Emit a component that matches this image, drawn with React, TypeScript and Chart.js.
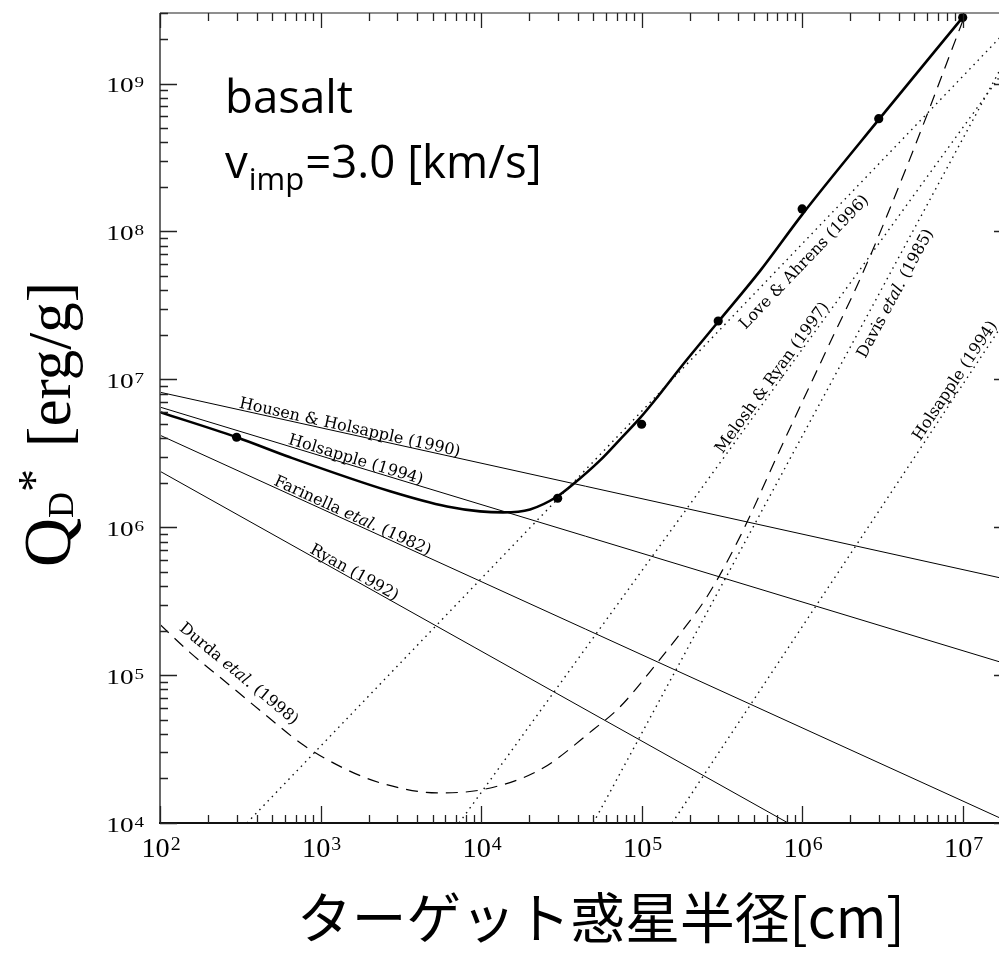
import React, { useEffect, useRef } from "react";
import { Chart, registerables } from "chart.js";

Chart.register(...registerables);

// Axis ranges: target radius [cm] and specific energy Q_D* [erg/g]
const X_MIN = 1e2;
const X_MAX = 2e7;
const Y_MIN = 1e4;
const Y_MAX = 3e9;

// Simulated thresholds (filled circles)
const sampleRadius = [3e2, 3e4, 1e5, 3e5, 1e6, 3e6, 1e7];
const sampleQ = [4.06e6, 1.57e6, 4.97e6, 2.48e7, 1.42e8, 5.79e8, 2.8e9];

// Fitted curve through the simulations (thick line)
const fitRadius = [1e2, 3e2, 646, 2710, 6140, 9860, 1.37e4, 2.02e4, 3e4, 3.74e4, 5.51e4, 7.35e4, 9.79e4, 1.25e5, 1.81e5, 3e5, 5.47e5, 1e6, 3e6, 1e7];
const fitQ = [6.0e6, 4.06e6, 2.97e6, 1.75e6, 1.38e6, 1.28e6, 1.26e6, 1.32e6, 1.62e6, 1.95e6, 2.83e6, 3.93e6, 5.48e6, 7.55e6, 1.26e7, 2.45e7, 5.41e7, 1.3e8, 5.7e8, 2.8e9];

// Strength-regime laws (thin solid lines)
const housenRadius = [1e2, 2e7];
const housenQ = [8.18e6, 4.38e5];
const holsStrRadius = [1e2, 2e7];
const holsStrQ = [6.49e6, 1.165e5];
const farinellaRadius = [1e2, 2e7];
const farinellaQ = [4.19e6, 1.0e4];
const ryanRadius = [1e2, 8.18e5];
const ryanQ = [2.39e6, 1e4];

// Durda et al. (1998) (dashed)
const durdaRadius = [100, 154, 247, 438, 778, 1380, 2350, 5320, 9860, 2.33e4, 4.99e4, 7.35e4, 1.25e5, 1.74e5, 2.56e5, 4.11e5, 7.3e5, 1.56e6, 2.3e6, 4.51e6, 9.24e6, 1.02e7];
const durdaQ = [2.2e5, 1.42e5, 9.3e4, 5.56e4, 3.38e4, 2.36e4, 1.87e4, 1.6e4, 1.67e4, 2.29e4, 4.27e4, 6.11e4, 1.21e5, 1.91e5, 3.4e5, 8.67e5, 3.37e6, 1.96e7, 4.78e7, 2.78e8, 2.11e9, 2.8e9];

// Gravity-regime laws (dotted)
const loveRadius = [348, 2e7];
const loveQ = [1e4, 2.45e9];
const meloshRadius = [7.3e3, 2e7];
const meloshQ = [1e4, 1.42e9];
const davisRadius = [5e4, 2e7];
const davisQ = [1e4, 1.7e9];
const holsGravRadius = [1.55e5, 2e7];
const holsGravQ = [1e4, 2.87e7];

type Curve = { r: number[]; q: number[] };
const curves: Record<string, Curve> = {
  housen: { r: housenRadius, q: housenQ },
  holsStr: { r: holsStrRadius, q: holsStrQ },
  farinella: { r: farinellaRadius, q: farinellaQ },
  ryan: { r: ryanRadius, q: ryanQ },
  durda: { r: durdaRadius, q: durdaQ },
  love: { r: loveRadius, q: loveQ },
  melosh: { r: meloshRadius, q: meloshQ },
  davis: { r: davisRadius, q: davisQ },
  holsGrav: { r: holsGravRadius, q: holsGravQ },
};

// Labels written along the curves: [text, italic]
type Label = { parts: [string, boolean][]; curve: string; from: number; to: number; side: "above" | "below"; gap: number };
const curveLabels: Label[] = [
  { parts: [["Housen & Holsapple (1990)", false]], curve: "housen", from: 306, to: 7194, side: "above", gap: 2 },
  { parts: [["Holsapple (1994)", false]], curve: "holsStr", from: 618, to: 2710, side: "above", gap: 2 },
  { parts: [["Farinella ", false], ["etal.", true], [" (1982)", false]], curve: "farinella", from: 499, to: 2831, side: "above", gap: 2 },
  { parts: [["Ryan (1992)", false]], curve: "ryan", from: 835, to: 2911, side: "above", gap: 2 },
  { parts: [["Durda ", false], ["etal.", true], [" (1998)", false]], curve: "durda", from: 120, to: 646, side: "above", gap: 9 },
  { parts: [["Love & Ahrens (1996)", false]], curve: "love", from: 3.66e5, to: 1e6, side: "below", gap: 7 },
  { parts: [["Melosh & Ryan (1997)", false]], curve: "melosh", from: 3.3e5, to: 1e6, side: "above", gap: 3 },
  { parts: [["Davis ", false], ["etal.", true], [" (1985)", false]], curve: "davis", from: 1.95e6, to: 5e6, side: "below", gap: 7 },
  { parts: [["Holsapple (1994)", false]], curve: "holsGrav", from: 5.7e6, to: 1.5e7, side: "above", gap: 4 },
];

const zip = (r: number[], q: number[]) => r.map((x, i) => ({ x, y: q[i] }));

// log-log interpolation along a curve, used to place the labels
function valueAt(c: Curve, x: number): number {
  const lx = Math.log10(x);
  for (let i = 0; i < c.r.length - 1; i++) {
    const a = Math.log10(c.r[i]);
    const b = Math.log10(c.r[i + 1]);
    if (lx >= a && lx <= b) {
      const t = (lx - a) / (b - a);
      return Math.pow(10, Math.log10(c.q[i]) + t * (Math.log10(c.q[i + 1]) - Math.log10(c.q[i])));
    }
  }
  return c.q[c.q.length - 1];
}

function logTicks(min: number, max: number) {
  const out: { v: number; major: boolean }[] = [];
  for (let e = Math.floor(Math.log10(min)); e <= Math.ceil(Math.log10(max)); e++) {
    for (let m = 1; m <= 9; m++) {
      const v = m * Math.pow(10, e);
      if (v >= min * 0.999 && v <= max * 1.001) out.push({ v, major: m === 1 });
    }
  }
  return out;
}

const SERIF = '"Liberation Serif", "Times New Roman", serif';

function drawPower(ctx: CanvasRenderingContext2D, exp: number, cx: number, cy: number, size: number, sx: number, align: "center" | "right") {
  ctx.save();
  ctx.translate(cx, cy);
  ctx.scale(sx, 1);
  ctx.textBaseline = "alphabetic";
  ctx.textAlign = "left";
  const base = "10";
  const sup = String(exp);
  const supSize = size * 0.7;
  ctx.font = `${size}px ${SERIF}`;
  const wb = ctx.measureText(base).width;
  ctx.font = `${supSize}px ${SERIF}`;
  const ws = ctx.measureText(sup).width;
  const gap = size * 0.03;
  const total = wb + gap + ws;
  const x0 = align === "center" ? -total / 2 : -total;
  const bl = 0.33 * size;
  ctx.font = `${size}px ${SERIF}`;
  ctx.fillText(base, x0, bl);
  ctx.font = `${supSize}px ${SERIF}`;
  ctx.fillText(sup, x0 + wb + gap, bl - 0.66 * size + 0.66 * supSize - 0.05 * size);
  ctx.restore();
}

const decorations = {
  id: "decorations",
  afterDatasetsDraw(chart: any) {
    const ctx: CanvasRenderingContext2D = chart.ctx;
    const xs = chart.scales.x;
    const ys = chart.scales.y;
    ctx.save();
    ctx.fillStyle = "#000";
    const fs = 16;
    const capH = fs * 0.73;
    for (const lab of curveLabels) {
      const c = curves[lab.curve];
      const x0 = xs.getPixelForValue(lab.from);
      const y0 = ys.getPixelForValue(valueAt(c, lab.from));
      const x1 = xs.getPixelForValue(lab.to);
      const y1 = ys.getPixelForValue(valueAt(c, lab.to));
      const ang = Math.atan2(y1 - y0, x1 - x0);
      ctx.save();
      ctx.translate(x0, y0);
      ctx.rotate(ang);
      ctx.textBaseline = "alphabetic";
      ctx.textAlign = "left";
      const by = lab.side === "above" ? -lab.gap : lab.gap + capH;
      let cx = 0;
      for (const [txt, it] of lab.parts) {
        ctx.font = `${it ? "italic " : ""}${fs}px "DejaVu Serif", serif`;
        ctx.fillText(txt, cx, by);
        cx += ctx.measureText(txt).width;
      }
      ctx.restore();
    }
    ctx.restore();
  },
  afterDraw(chart: any) {
    const ctx: CanvasRenderingContext2D = chart.ctx;
    const xs = chart.scales.x;
    const ys = chart.scales.y;
    const { left, right, top, bottom } = chart.chartArea;
    ctx.save();

    // frame
    ctx.lineCap = "butt";
    ctx.strokeStyle = "#6a6a6a";
    ctx.lineWidth = 2;
    ctx.beginPath();
    ctx.moveTo(left, top);
    ctx.lineTo(left, bottom);
    ctx.moveTo(right, top);
    ctx.lineTo(right, bottom);
    ctx.stroke();
    ctx.lineWidth = 1.5;
    ctx.beginPath();
    ctx.moveTo(left, top);
    ctx.lineTo(right, top);
    ctx.stroke();
    ctx.strokeStyle = "#111";
    ctx.lineWidth = 2;
    ctx.beginPath();
    ctx.moveTo(left - 1, bottom);
    ctx.lineTo(right, bottom);
    ctx.stroke();

    // inward tick marks on all four sides
    ctx.strokeStyle = "#222";
    ctx.lineWidth = 1.3;
    ctx.beginPath();
    for (const t of logTicks(X_MIN, X_MAX)) {
      const px = Math.round(xs.getPixelForValue(t.v)) + 0.5;
      const len = t.major ? 17 : 8;
      ctx.moveTo(px, bottom);
      ctx.lineTo(px, bottom - len);
      ctx.moveTo(px, top);
      ctx.lineTo(px, top + (t.major ? 15 : 8));
    }
    for (const t of logTicks(Y_MIN, Y_MAX)) {
      const py = Math.round(ys.getPixelForValue(t.v)) + 0.5;
      const len = t.major ? 17 : 8;
      ctx.moveTo(left, py);
      ctx.lineTo(left + len, py);
      ctx.moveTo(right, py);
      ctx.lineTo(right - len, py);
    }
    ctx.stroke();

    // tick labels
    ctx.fillStyle = "#000";
    for (const t of logTicks(X_MIN, X_MAX)) {
      if (!t.major) continue;
      const px = xs.getPixelForValue(t.v);
      drawPower(ctx, Math.round(Math.log10(t.v)), px + 1, bottom + 25, 27, 1.05, "center");
    }
    for (const t of logTicks(Y_MIN, Y_MAX)) {
      if (!t.major) continue;
      const py = ys.getPixelForValue(t.v);
      drawPower(ctx, Math.round(Math.log10(t.v)), left - 16, py + 2, 21, 1.3, "right");
    }

    // y-axis title: Q_D* [erg/g]
    ctx.save();
    ctx.translate(70, 567);
    ctx.rotate(-Math.PI / 2);
    ctx.textBaseline = "alphabetic";
    ctx.textAlign = "left";
    let ax = 0;
    ctx.font = `68px ${SERIF}`;
    ctx.fillText("Q", ax, 0);
    ax += ctx.measureText("Q").width;
    ctx.font = `36px ${SERIF}`;
    ctx.fillText("D", ax, 3);
    ax += ctx.measureText("D").width;
    ctx.font = `46px ${SERIF}`;
    ctx.fillText("*", ax, -20);
    ax += ctx.measureText("*").width + 22;
    ctx.font = `61px ${SERIF}`;
    ctx.fillText("[erg/g]", ax, 0);
    ctx.restore();

    // x-axis title
    const jp = '"Noto Sans CJK JP", sans-serif';
    const xt = "ターゲット惑星半径[cm]";
    ctx.font = `100px ${jp}`;
    const xs100 = ctx.measureText(xt).width;
    const xSize = (100 * 608) / xs100;
    ctx.font = `${xSize}px ${jp}`;
    ctx.textAlign = "left";
    ctx.textBaseline = "alphabetic";
    ctx.fillText(xt, 297, 938);

    // material and impact velocity
    const sans = '"Open Sans", "Noto Sans", sans-serif';
    ctx.font = `100px ${sans}`;
    const bw = ctx.measureText("basalt").width;
    const tSize = (100 * 128) / bw;
    ctx.font = `${tSize}px ${sans}`;
    ctx.fillText("basalt", 225, 113);
    let vx = 225;
    ctx.fillText("v", vx, 178);
    vx += ctx.measureText("v").width + 1;
    ctx.font = `${tSize * 0.68}px ${sans}`;
    ctx.fillText("imp", vx, 190);
    vx += ctx.measureText("imp").width + 1;
    ctx.font = `${tSize}px ${sans}`;
    ctx.fillText("=3.0 [km/s]", vx, 178);

    ctx.restore();
  },
};

export default function App() {
  const canvasRef = useRef<HTMLCanvasElement>(null);

  useEffect(() => {
    const canvas = canvasRef.current;
    if (!canvas) return;
    const thin = (data: { x: number; y: number }[]) => ({
      data,
      borderColor: "#000",
      borderWidth: 1,
      pointRadius: 0,
      fill: false,
      tension: 0,
    });
    const dotted = (data: { x: number; y: number }[]) => ({
      ...thin(data),
      borderWidth: 1.4,
      borderColor: "#111",
      borderDash: [1.5, 4.5],
    });
    const chart = new Chart(canvas, {
      type: "line",
      data: {
        datasets: [
          thin(zip(housenRadius, housenQ)),
          thin(zip(holsStrRadius, holsStrQ)),
          thin(zip(farinellaRadius, farinellaQ)),
          thin(zip(ryanRadius, ryanQ)),
          { ...thin(zip(durdaRadius, durdaQ)), borderWidth: 1.2, borderDash: [12, 8], cubicInterpolationMode: "monotone" },
          dotted(zip(loveRadius, loveQ)),
          dotted(zip(meloshRadius, meloshQ)),
          dotted(zip(davisRadius, davisQ)),
          dotted(zip(holsGravRadius, holsGravQ)),
          { ...thin(zip(fitRadius, fitQ)), borderWidth: 2.6, cubicInterpolationMode: "monotone" },
          {
            data: zip(sampleRadius, sampleQ),
            showLine: false,
            pointRadius: 4.6,
            pointBackgroundColor: "#000",
            pointBorderWidth: 0,
            borderColor: "#000",
          },
        ] as any,
      },
      options: {
        responsive: false,
        devicePixelRatio: 1,
        animation: false,
        events: [],
        layout: { padding: { left: 160, right: 19, top: 13, bottom: 139 } },
        plugins: { legend: { display: false }, tooltip: { enabled: false } },
        scales: {
          x: { type: "logarithmic", min: X_MIN, max: X_MAX, display: false },
          y: { type: "logarithmic", min: Y_MIN, max: Y_MAX, display: false },
        },
      },
      plugins: [decorations],
    });
    return () => chart.destroy();
  }, []);

  return (
    <div style={{ position: "absolute", left: 0, top: 0, width: 999, height: 962, overflow: "hidden", background: "#fff" }}>
      <canvas ref={canvasRef} width={1030} height={962} style={{ display: "block" }} />
    </div>
  );
}
